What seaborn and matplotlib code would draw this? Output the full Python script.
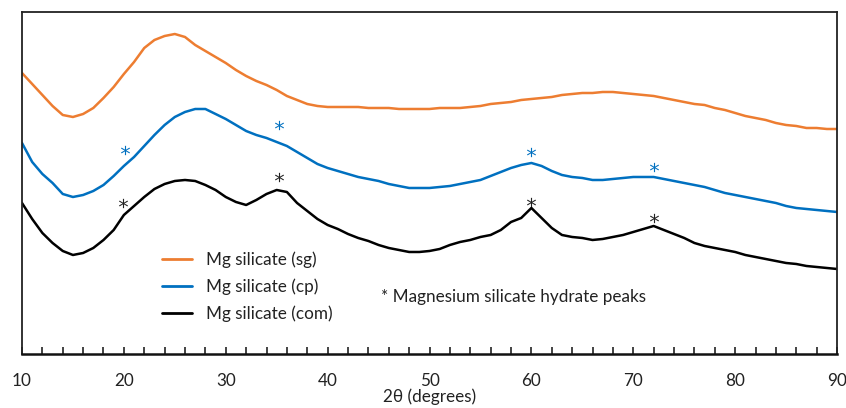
import pandas as pd
import seaborn as sns
import matplotlib.pyplot as plt
from matplotlib.ticker import MultipleLocator

# 2-theta positions (degrees)
two_theta = list(range(10, 91))

# intensities (arbitrary units, stacked/offset as in the figure)
sg = [281, 270, 259, 248, 239, 237, 240, 246, 256, 267, 280, 292, 306, 314, 318, 320,
      317, 309, 303, 297, 291, 284, 278, 273, 269, 264, 258, 254, 250, 248, 247, 247,
      247, 247, 246, 246, 246, 245, 245, 245, 245, 246, 246, 246, 247, 248, 250, 251,
      252, 254, 255, 256, 257, 259, 260, 261, 261, 262, 262, 261, 260, 259, 258, 256,
      254, 252, 250, 249, 246, 244, 241, 238, 236, 234, 231, 229, 228, 226, 226, 225, 225]
cp = [211, 192, 180, 171, 160, 157, 159, 163, 169, 178, 188, 197, 208, 219, 229, 237,
      242, 245, 245, 240, 235, 229, 223, 219, 216, 212, 208, 202, 196, 190, 186, 183,
      180, 177, 175, 173, 170, 168, 166, 166, 166, 167, 168, 170, 172, 174, 178, 182,
      186, 189, 191, 188, 183, 179, 177, 176, 174, 174, 175, 176, 177, 177, 177, 175,
      173, 171, 169, 167, 164, 161, 159, 157, 155, 153, 151, 148, 146, 145, 144, 143, 142]
com = [151, 135, 121, 111, 103, 99, 101, 106, 114, 124, 139, 148, 157, 165, 170, 173,
       174, 173, 169, 164, 157, 152, 149, 154, 160, 164, 162, 151, 143, 135, 129, 125,
       120, 116, 113, 109, 106, 104, 102, 102, 103, 105, 109, 112, 114, 117, 119, 124,
       132, 136, 146, 136, 126, 119, 117, 116, 114, 115, 117, 119, 122, 125, 128, 124,
       120, 116, 111, 108, 106, 104, 102, 99, 97, 95, 93, 91, 90, 88, 87, 86, 85]

# peak markers (2-theta, intensity) for cp and com
cp_peaks_x = [20.1, 35.2, 60.0, 72.0]
cp_peaks_y = [204, 229, 202, 187]
com_peaks_x = [19.9, 35.2, 60.0, 72.0]
com_peaks_y = [151, 177, 152, 136]

labels = ['Mg silicate (sg)', 'Mg silicate (cp)', 'Mg silicate (com)']
colors = ['#ED7D31', '#0070C0', '#000000']

df = pd.DataFrame({
    'two_theta': two_theta * 3,
    'intensity': sg + cp + com,
    'sample': [labels[0]] * len(sg) + [labels[1]] * len(cp) + [labels[2]] * len(com),
})

sns.set_style("white")
plt.rcParams['font.family'] = ['Lato', 'DejaVu Sans']

fig = plt.figure(figsize=(8.46, 4.08), dpi=100)
ax = fig.add_axes([0.026, 0.1324, 0.9634, 0.8382])

sns.lineplot(data=df, x='two_theta', y='intensity', hue='sample',
             palette=dict(zip(labels, colors)), linewidth=1.8, ax=ax)

ax.scatter(cp_peaks_x, cp_peaks_y, marker='$*$', s=45, color='#0070C0', linewidths=0)
ax.scatter(com_peaks_x, com_peaks_y, marker='$*$', s=45, color='#222222', linewidths=0)

ax.set_xlim(10, 90)
ax.set_ylim(0, 342)
ax.set_yticks([])
ax.xaxis.set_major_locator(MultipleLocator(10))
ax.xaxis.set_minor_locator(MultipleLocator(2))
ax.tick_params(axis='x', which='both', direction='in', length=5, width=1.2,
               bottom=True, labelsize=12.3, colors='#222222', pad=14)
ax.set_xlabel('2θ (degrees)', fontsize=12.3, labelpad=-1, color='#222222')
ax.set_ylabel('')

for side in ['left', 'right', 'top']:
    ax.spines[side].set_color('#222222')
    ax.spines[side].set_linewidth(1.3)
ax.spines['bottom'].set_color('#111111')
ax.spines['bottom'].set_linewidth(1.8)

leg = ax.legend(loc='upper left', bbox_to_anchor=(0.153, 0.345), frameon=False,
                fontsize=12.3, handlelength=1.75, handletextpad=0.85, labelspacing=0.6)
for line in leg.get_lines():
    line.set_linewidth(2)
for t in leg.get_texts():
    t.set_color('#222222')

ax.text(0.440, 0.167, '* Magnesium silicate hydrate peaks', transform=ax.transAxes,
        fontsize=12.3, color='#222222', va='center', ha='left')

plt.savefig('out.png', dpi=100)
plt.close()
